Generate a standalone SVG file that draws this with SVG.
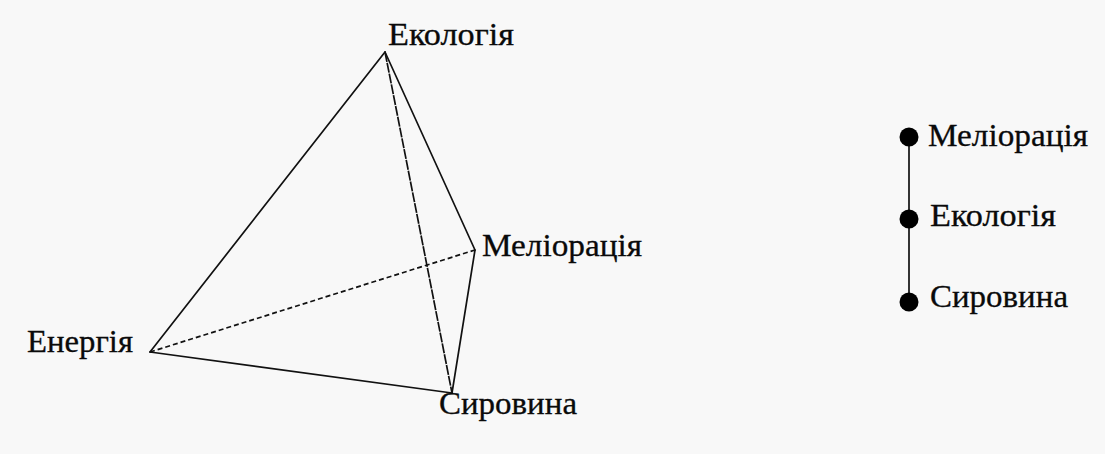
<svg xmlns="http://www.w3.org/2000/svg" width="1105" height="454" viewBox="0 0 1105 454">
<style>
.t{font-family:"Liberation Serif","Times New Roman",serif;font-size:31px;fill:#0a0a0a;stroke:#0a0a0a;stroke-width:0.3}
.e{stroke:#111;stroke-width:1.7;fill:none;stroke-linecap:round}
.d{stroke-dasharray:5 3;stroke-linecap:butt}
.f{stroke-dasharray:10 1;stroke-linecap:butt}
</style>
<rect width="1105" height="454" fill="#f8f8f8"/>
<g id="connectors">
<line class="e" x1="385" y1="52" x2="150" y2="352"/>
<line class="e" x1="385" y1="52" x2="475" y2="250"/>
<line class="e f" x1="385" y1="52" x2="452" y2="393"/>
<line class="e" x1="475" y1="250" x2="452" y2="393"/>
<line class="e" x1="150" y1="352" x2="452" y2="393"/>
<line class="e d" x1="150" y1="352" x2="475" y2="250"/>
<line class="e" x1="909" y1="137" x2="909" y2="302"/>
</g>
<g id="n-ekologia"><text class="t" x="388" y="45" textLength="126" lengthAdjust="spacingAndGlyphs">Екологія</text></g>
<g id="n-melioracia"><text class="t" x="482" y="256" textLength="160" lengthAdjust="spacingAndGlyphs">Меліорація</text></g>
<g id="n-energia"><text class="t" x="27" y="352" textLength="106" lengthAdjust="spacingAndGlyphs">Енергія</text></g>
<g id="n-syrovyna"><text class="t" x="439" y="414" textLength="138" lengthAdjust="spacingAndGlyphs">Сировина</text></g>
<g id="r-melioracia"><circle cx="909" cy="137" r="9.5" fill="#000"/><text class="t" x="928" y="146" textLength="160" lengthAdjust="spacingAndGlyphs">Меліорація</text></g>
<g id="r-ekologia"><circle cx="909" cy="219" r="9.5" fill="#000"/><text class="t" x="930" y="226" textLength="126" lengthAdjust="spacingAndGlyphs">Екологія</text></g>
<g id="r-syrovyna"><circle cx="909" cy="302" r="9.5" fill="#000"/><text class="t" x="930" y="307" textLength="138" lengthAdjust="spacingAndGlyphs">Сировина</text></g>
</svg>
